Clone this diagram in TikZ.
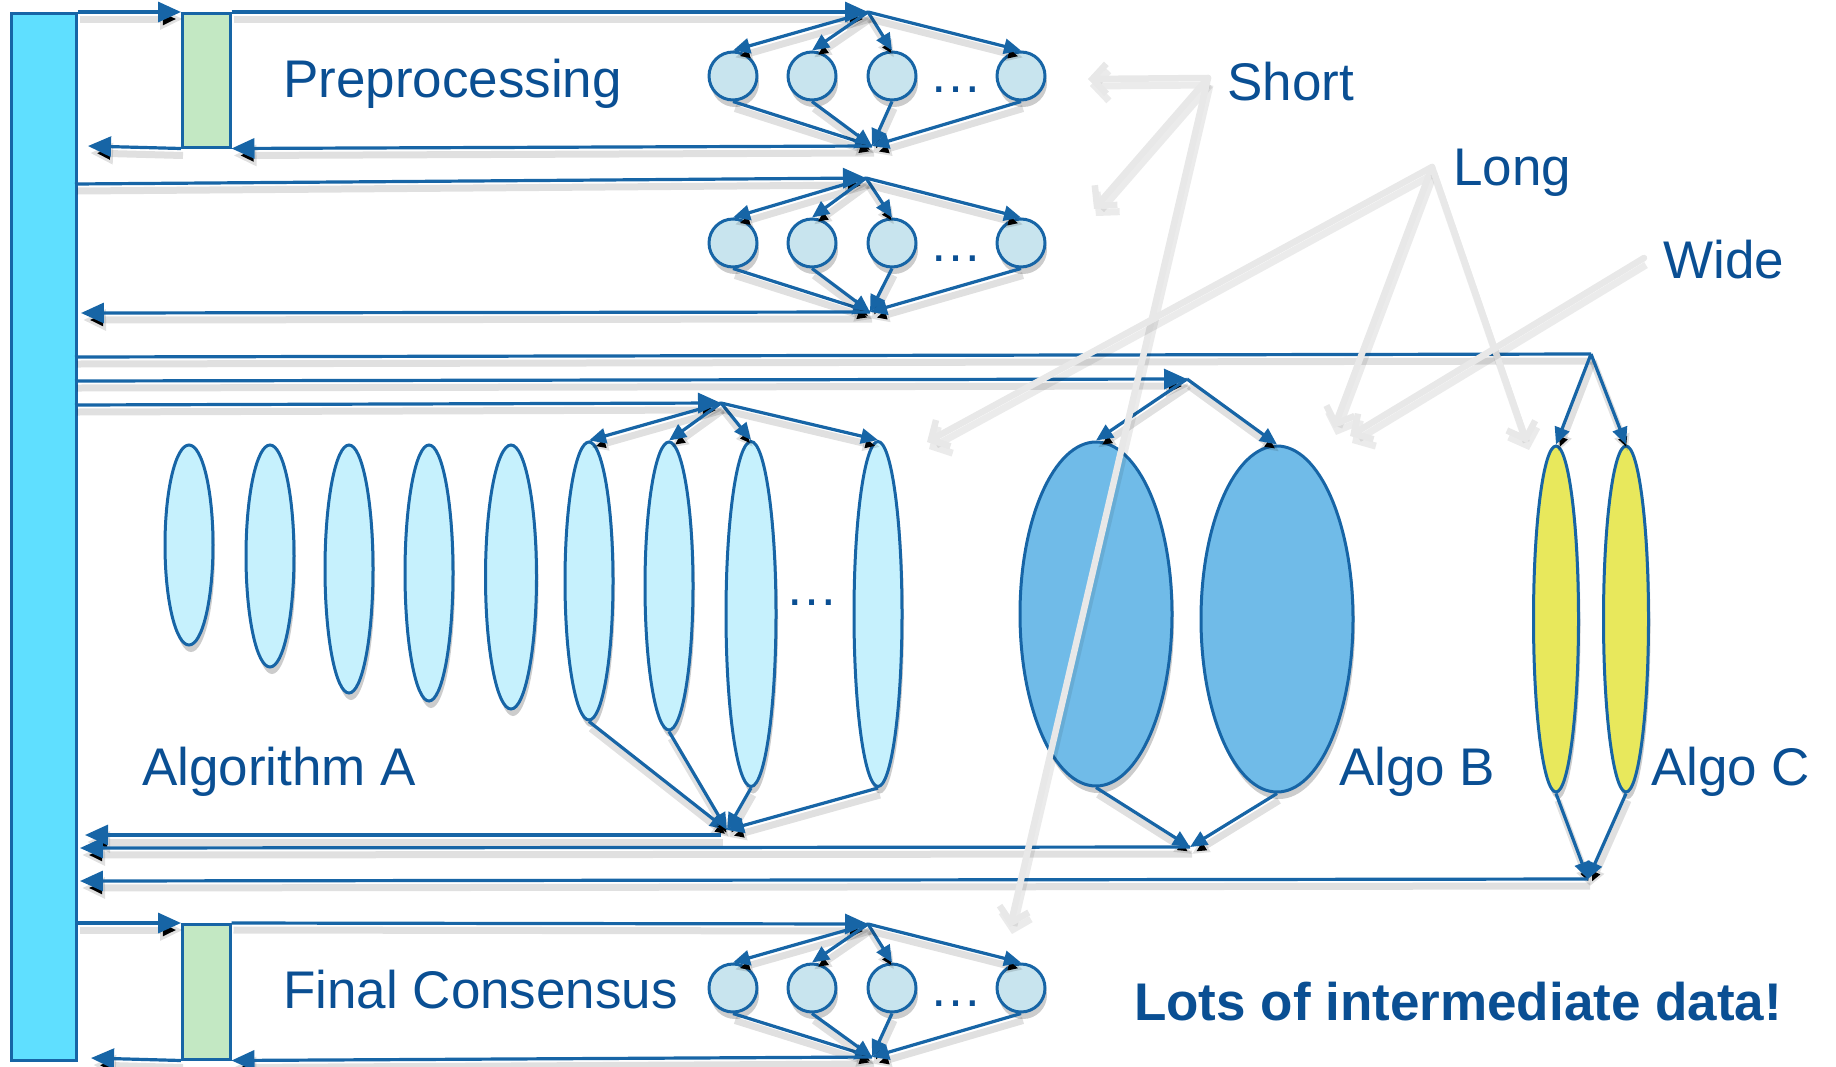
\documentclass[tikz,border=0pt]{standalone}
\usepackage{fontspec}
\setmainfont{Liberation Sans}
\usetikzlibrary{arrows.meta,shapes.geometric,shadows}

\definecolor{barcyan}{HTML}{5FDFFF}
\definecolor{lineblue}{HTML}{1765A6}
\definecolor{txtblue}{HTML}{0A4F93}
\definecolor{boxgreen}{HTML}{C3E8C3}
\definecolor{taskfill}{HTML}{C8E4EE}
\definecolor{afill}{HTML}{C6F1FD}
\definecolor{bfill}{HTML}{70BBE8}
\definecolor{cfill}{HTML}{E8E85C}
\definecolor{notegray}{HTML}{E8E8E8}

\tikzset{
  shadowed/.style={preaction={draw=black, draw opacity=0.12, line width=7pt,
      transform canvas={shift={(2pt,-7pt)}}}},
  flow/.style={draw=lineblue, line width=3.2pt, line join=round, shadowed},
  bigtip/.style={-{Triangle[length=23pt,width=20pt]}},
  smalltip/.style={-{Triangle[length=17pt,width=15pt]}},
  nshadow/.style={drop shadow={shadow xshift=2pt, shadow yshift=-7pt, opacity=0.2, fill=black}},
  barbox/.style={draw=lineblue, line width=3pt, fill=barcyan, anchor=north west,
      minimum width=65pt, minimum height=1047pt, inner sep=0pt},
  greenbox/.style={draw=lineblue, line width=2.5pt, fill=boxgreen, anchor=north west,
      minimum width=48pt, inner sep=0pt},
  task/.style={circle, draw=lineblue, line width=3pt, fill=taskfill,
      minimum size=48pt, inner sep=0pt, nshadow},
  aell/.style={ellipse, draw=lineblue, line width=3pt, fill=afill,
      minimum width=48pt, inner sep=0pt, nshadow},
  bell/.style={ellipse, draw=lineblue, line width=3pt, fill=bfill,
      minimum width=152pt, inner sep=0pt, nshadow},
  cell/.style={ellipse, draw=lineblue, line width=3pt, fill=cfill,
      minimum width=45pt, minimum height=346pt, inner sep=0pt, nshadow},
  lbl/.style={text=txtblue, font=\fontsize{53}{60}\selectfont, inner sep=0pt, anchor=base west},
  dotlbl/.style={text=txtblue, font=\fontsize{53}{60}\selectfont, inner sep=0pt, anchor=base},
  note/.style={draw=notegray, line width=6.5pt, line cap=round,
      -{Straight Barb[length=14pt,width=30pt]},
      preaction={draw=black, draw opacity=0.08, line width=7pt,
      -{Straight Barb[length=14pt,width=30pt]},
      transform canvas={shift={(2pt,-7pt)}}}},
}

\begin{document}
\begin{tikzpicture}[x=1pt,y=-1pt]
\useasboundingbox (0,0) rectangle (1836,1066);

% coordinator bar and consensus boxes
\node[barbox] (bar) at (10,12) {};
\node[greenbox, minimum height=134pt] (g1) at (181,12) {};
\node[greenbox, minimum height=135pt] (g2) at (181,923) {};

% ---------- preprocessing stage ----------
\coordinate (ptop) at (868,12);
\coordinate (pbot) at (872,146);
\coordinate (pret) at (88,146);
\node[task] (p1) at (733,76) {};
\node[task] (p2) at (812,76) {};
\node[task] (p3) at (892,76) {};
\node[task] (p4) at (1021,76) {};
\node[dotlbl] (pdots) at (956,92) {…};
\node[lbl] (tpre) at (283,97) {Preprocessing};

\draw[flow,bigtip] (bar.east |- g1.north west) -- (g1.north west);
\draw[flow,bigtip] (g1.north east) -- (ptop);
\foreach \c in {p1,p2,p3,p4} \draw[flow,smalltip] (ptop) -- (\c.north);
\foreach \c in {p1,p2,p3,p4} \draw[flow,smalltip] (\c.south) -- (pbot);
\draw[flow,bigtip] (pbot) -- (g1.south east);
\draw[flow,bigtip] (g1.south west) -- (pret);

% ---------- second short stage ----------
\coordinate (qin) at (75,184);
\coordinate (qtop) at (866,178);
\coordinate (qbot) at (870,312);
\coordinate (qret) at (81,313);
\node[task] (q1) at (733,243) {};
\node[task] (q2) at (812,243) {};
\node[task] (q3) at (892,243) {};
\node[task] (q4) at (1021,243) {};
\node[dotlbl] (qdots) at (956,261) {…};

\draw[flow,bigtip] (qin) -- (qtop);
\foreach \c in {q1,q2,q3,q4} \draw[flow,smalltip] (qtop) -- (\c.north);
\foreach \c in {q1,q2,q3,q4} \draw[flow,smalltip] (\c.south) -- (qbot);
\draw[flow,bigtip] (qbot) -- (qret);

% ---------- algorithm A ----------
\coordinate (ain) at (75,405);
\coordinate (atop) at (721,403);
\coordinate (abot) at (727,830);
\coordinate (aret) at (85,835);
\node[aell, minimum height=200pt] (a1) at (189,545) {};
\node[aell, minimum height=222pt] (a2) at (270,556) {};
\node[aell, minimum height=248pt] (a3) at (349,569) {};
\node[aell, minimum height=256pt] (a4) at (429,573) {};
\node[aell, minimum height=264pt, minimum width=51pt] (a5) at (511,577) {};
\node[aell, minimum height=278pt] (a6) at (589,581) {};
\node[aell, minimum height=288pt] (a7) at (669,586) {};
\node[aell, minimum height=345pt, minimum width=50pt] (a8) at (751,614) {};
\node[aell, minimum height=345pt] (a9) at (878,614) {};
\node[dotlbl] (adots) at (812,605) {…};
\node[lbl] (talgA) at (142,785) {Algorithm A};

\draw[flow,bigtip] (ain) -- (atop);
\foreach \c in {a6,a7,a8,a9} \draw[flow,smalltip] (atop) -- (\c.north);
\foreach \c in {a6,a7,a8,a9} \draw[flow,smalltip] (\c.south) -- (abot);
\draw[flow,bigtip] (721,835) -- (aret);

% ---------- algorithm B ----------
\coordinate (bin) at (75,381);
\coordinate (btop) at (1187,379);
\coordinate (bbot) at (1190,847);
\coordinate (bret) at (80,848);
\node[bell, minimum height=344pt] (b1) at (1096,614) {};
\node[bell, minimum height=346pt] (b2) at (1277,619) {};
\node[lbl] (talgB) at (1339,785) {Algo B};

\draw[flow,bigtip] (bin) -- (btop);
\foreach \c in {b1,b2} \draw[flow,smalltip] (btop) -- (\c.north);
\foreach \c in {b1,b2} \draw[flow,smalltip] (\c.south) -- (bbot);
\draw[flow,bigtip] (bbot) -- (bret);

% ---------- algorithm C ----------
\coordinate (cin) at (75,357);
\coordinate (ctop) at (1591,354);
\coordinate (cbot) at (1588,879);
\coordinate (cret) at (80,881);
\node[cell] (c1) at (1556,619) {};
\node[cell] (c2) at (1626,619) {};
\node[lbl] (talgC) at (1651,785) {Algo C};

\draw[flow] (cin) -- (ctop);
\foreach \c in {c1,c2} \draw[flow,smalltip] (ctop) -- (\c.north);
\foreach \c in {c1,c2} \draw[flow,smalltip] (\c.south) -- (cbot);
\draw[flow,bigtip] (cbot) -- (cret);

% ---------- final consensus ----------
\coordinate (ftop) at (868,924);
\coordinate (fbot) at (872,1057);
\coordinate (fret) at (91,1058);
\node[task] (f1) at (733,988) {};
\node[task] (f2) at (812,988) {};
\node[task] (f3) at (892,988) {};
\node[task] (f4) at (1021,988) {};
\node[dotlbl] (fdots) at (956,1006) {…};
\node[lbl] (tfin) at (283,1008) {Final Consensus};

\draw[flow,bigtip] (bar.east |- g2.north west) -- (g2.north west);
\draw[flow,bigtip] (g2.north east) -- (ftop);
\foreach \c in {f1,f2,f3,f4} \draw[flow,smalltip] (ftop) -- (\c.north);
\foreach \c in {f1,f2,f3,f4} \draw[flow,smalltip] (\c.south) -- (fbot);
\draw[flow,bigtip] (fbot) -- (g2.south east);
\draw[flow,bigtip] (g2.south west) -- (fret);

\node[lbl, font=\fontsize{53}{60}\selectfont\bfseries] (tlots) at (1134,1020) {Lots of intermediate data!};

% ---------- annotations ----------
\node[lbl] (tshort) at (1227,100) {Short};
\node[lbl] (tlong) at (1453,185) {Long};
\node[lbl] (twide) at (1663,278) {Wide};

\coordinate (so) at (1208,78);
\coordinate (s1) at (1088,79);
\coordinate (s2) at (1094,209);
\coordinate (s3) at (1010,927);
\coordinate (lo) at (1432,167);
\coordinate (l1) at (927,442);
\coordinate (l2) at (1334,428);
\coordinate (l3) at (1527,443);
\coordinate (wo) at (1644,258);
\coordinate (w1) at (1350,436);

\foreach \t in {s1,s2,s3} \draw[note] (so) -- (\t);
\foreach \t in {l1,l2,l3} \draw[note] (lo) -- (\t);
\draw[note] (wo) -- (w1);
\end{tikzpicture}
\end{document}
